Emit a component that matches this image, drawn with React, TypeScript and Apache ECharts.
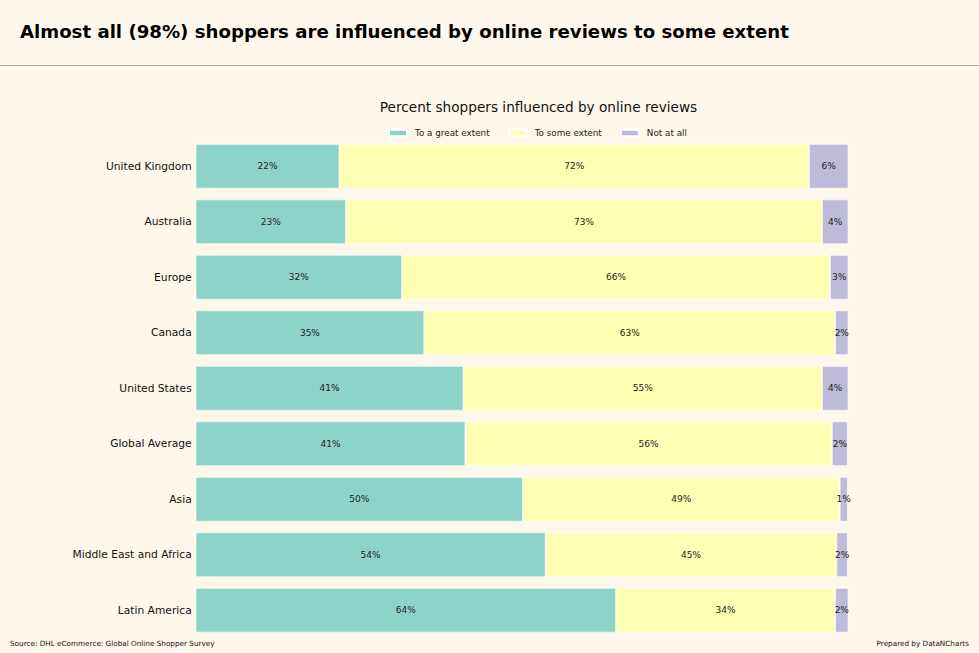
import React, { useEffect, useRef } from "react";
import * as echarts from "echarts";

const categories = [
  "United Kingdom",
  "Australia",
  "Europe",
  "Canada",
  "United States",
  "Global Average",
  "Asia",
  "Middle East and Africa",
  "Latin America",
];
const greatExtent = [22, 23, 31.6, 35, 41, 41.3, 50.1, 53.6, 64.4];
const someExtent = [72, 73, 65.6, 63, 55, 56.2, 48.6, 44.6, 33.6];
const notAtAll = [6, 4, 2.8, 2, 4, 2.4, 1.2, 1.7, 2.0];
const seriesNames = ["To a great extent", "To some extent", "Not at all"];
const colors = ["#8dd3c7", "#ffffb3", "#bebada"];

const BG = "#fef8ec";
const FONT = "DejaVu Sans";

export default function App() {
  const ref = useRef<HTMLDivElement>(null);
  useEffect(() => {
    document.body.style.margin = "0";
    document.body.style.background = BG;
    const chart = echarts.init(ref.current!, undefined, { renderer: "svg" });
    const mk = (name: string, data: number[], color: string) => ({
      name,
      type: "bar",
      stack: "total",
      data,
      barCategoryGap: "20%",
      itemStyle: { color, borderColor: "#ffffff", borderWidth: 0.6 },
      label: {
        show: true,
        position: "inside",
        color: "#222",
        fontFamily: FONT,
        fontSize: 9,
        formatter: (p: any) => Math.round(p.value) + "%",
      },
    });
    chart.setOption({
      animation: false,
      backgroundColor: BG,
      textStyle: { fontFamily: FONT },
      graphic: [
        {
          type: "text",
          x: 20,
          y: 31.5,
          style: {
            text: "Almost all (98%) shoppers are influenced by online reviews to some extent",
            font: `bold 18.15px '${FONT}'`,
            fill: "#000",
            textVerticalAlign: "middle",
          },
        },
        {
          type: "line",
          shape: { x1: 0, y1: 65.5, x2: 979, y2: 65.5 },
          style: { stroke: "#a9a59c", lineWidth: 1 },
        },
        {
          type: "text",
          x: 538.5,
          y: 107,
          style: {
            text: "Percent shoppers influenced by online reviews",
            font: `13.65px '${FONT}'`,
            fill: "#111",
            textAlign: "center",
            textVerticalAlign: "middle",
          },
        },
        {
          type: "text",
          x: 10,
          y: 643,
          style: {
            text: "Source: DHL eCommerce: Global Online Shopper Survey",
            font: `7.25px '${FONT}'`,
            fill: "#111",
            textVerticalAlign: "middle",
          },
        },
        {
          type: "text",
          x: 969,
          y: 643,
          style: {
            text: "Prepared by DataNCharts",
            font: `7.25px '${FONT}'`,
            fill: "#111",
            textAlign: "right",
            textVerticalAlign: "middle",
          },
        },
      ],
      legend: {
        left: 388,
        top: 128.5,
        padding: 0,
        icon: "rect",
        itemWidth: 18,
        itemHeight: 6.5,
        itemGap: 18,
        textStyle: { fontFamily: FONT, fontSize: 8.8, color: "#222", padding: [0, 0, 0, 3] },
        data: seriesNames.map((n, i) => ({ name: n, itemStyle: { color: colors[i] } })),
      },
      grid: { left: 195.7, width: 652.6, top: 138.5, height: 499.5, containLabel: false },
      xAxis: { type: "value", min: 0, max: 100, show: false },
      yAxis: {
        type: "category",
        data: categories,
        inverse: true,
        axisLine: { show: false },
        axisTick: { show: false },
        axisLabel: { fontFamily: FONT, fontSize: 10.7, color: "#111", margin: 4 },
      },
      series: [
        mk(seriesNames[0], greatExtent, colors[0]),
        mk(seriesNames[1], someExtent, colors[1]),
        mk(seriesNames[2], notAtAll, colors[2]),
      ],
    });
    return () => chart.dispose();
  }, []);
  return <div ref={ref} style={{ width: 979, height: 653 }} />;
}
